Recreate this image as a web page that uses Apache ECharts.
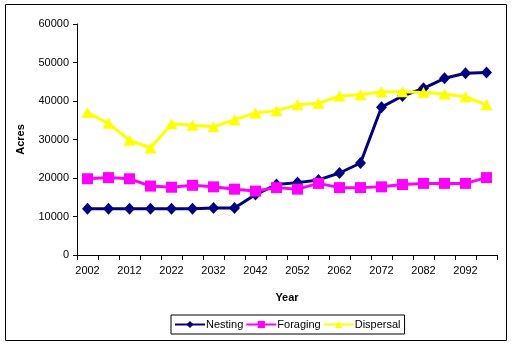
<!DOCTYPE html>
<html>
<head>
<meta charset="utf-8">
<script src="https://cdn.jsdelivr.net/npm/echarts@6/dist/echarts.min.js"></script>
<style>
  html, body { margin: 0; padding: 0; background: #fff; }
  #chart { width: 514px; height: 348px; }
</style>
</head>
<body>
<div id="chart"></div>
<script>
// Projected habitat area by decade-half, 2002 to 2097
const years = [2002, 2007, 2012, 2017, 2022, 2027, 2032, 2037, 2042, 2047,
               2052, 2057, 2062, 2067, 2072, 2077, 2082, 2087, 2092, 2097];
const nesting = [12000, 12000, 12000, 12000, 12000, 12000, 12200, 12200, 15700, 18300,
                 18800, 19500, 21300, 23900, 38400, 41300, 43300, 45900, 47200, 47400];
const foraging = [19800, 20100, 19800, 17900, 17600, 18100, 17700, 17100, 16600, 17500,
                  17100, 18600, 17500, 17500, 17700, 18300, 18600, 18600, 18600, 20100];
const dispersal = [37000, 34200, 29800, 27800, 34100, 33700, 33300, 35100, 36900, 37500,
                   39000, 39400, 41300, 41600, 42400, 42400, 42200, 41800, 41100, 39000];
const yTicks = { min: 0, max: 60000, interval: 10000 };

const font = 'Liberation Sans, Arial, sans-serif';
const chart = echarts.init(document.getElementById('chart'), null, { renderer: 'canvas' });

chart.setOption({
  animation: false,
  backgroundColor: '#ffffff',
  textStyle: { fontFamily: font, color: '#000' },
  graphic: [{
    type: 'rect',
    shape: { x: 5.5, y: 4.5, width: 501, height: 336 },
    style: { fill: 'none', stroke: '#000', lineWidth: 1 },
    silent: true
  }],
  grid: { left: 77, right: 17, top: 24, bottom: 93, containLabel: false },
  legend: {
    left: 171, top: 315,
    width: 232, height: 21,
    padding: [4, 4, 4, 3],
    itemGap: 2,
    itemWidth: 30, itemHeight: 9,
    borderColor: '#000', borderWidth: 1,
    textStyle: { fontFamily: font, fontSize: 11, color: '#000', padding: [0, 0, 0, -4] },
    data: ['Nesting', 'Foraging', 'Dispersal']
  },
  xAxis: {
    type: 'category',
    data: years.map(String),
    boundaryGap: true,
    name: 'Year',
    nameLocation: 'middle',
    nameGap: 37,
    nameTextStyle: { fontFamily: font, fontSize: 11, fontWeight: 'bold', color: '#000' },
    axisLine: { lineStyle: { color: '#000', width: 1 } },
    axisTick: { show: true, interval: 0, length: 5, alignWithLabel: false, lineStyle: { color: '#000' } },
    axisLabel: { interval: 1, margin: 10, fontFamily: font, fontSize: 11, color: '#000' },
    splitLine: { show: false }
  },
  yAxis: {
    type: 'value',
    min: yTicks.min, max: yTicks.max, interval: yTicks.interval,
    name: 'Acres',
    nameLocation: 'middle',
    nameRotate: 90,
    nameGap: 51,
    nameTextStyle: { fontFamily: font, fontSize: 11, fontWeight: 'bold', color: '#000' },
    axisLine: { show: true, lineStyle: { color: '#000', width: 1 } },
    axisTick: { show: true, length: 4, lineStyle: { color: '#000' } },
    axisLabel: { margin: 8, fontFamily: font, fontSize: 11, color: '#000',
                 formatter: v => String(v) },
    splitLine: { show: false }
  },
  series: [
    {
      name: 'Nesting', type: 'line', data: nesting,
      symbol: 'diamond', symbolSize: [11, 12],
      lineStyle: { color: '#000080', width: 3 },
      itemStyle: { color: '#000080' }
    },
    {
      name: 'Foraging', type: 'line', data: foraging,
      symbol: 'rect', symbolSize: 11,
      lineStyle: { color: '#ff00ff', width: 3 },
      itemStyle: { color: '#ff00ff' }
    },
    {
      name: 'Dispersal', type: 'line', data: dispersal,
      symbol: 'triangle', symbolSize: [12, 11],
      lineStyle: { color: '#ffff00', width: 3 },
      itemStyle: { color: '#ffff00' }
    }
  ]
});
</script>
</body>
</html>
